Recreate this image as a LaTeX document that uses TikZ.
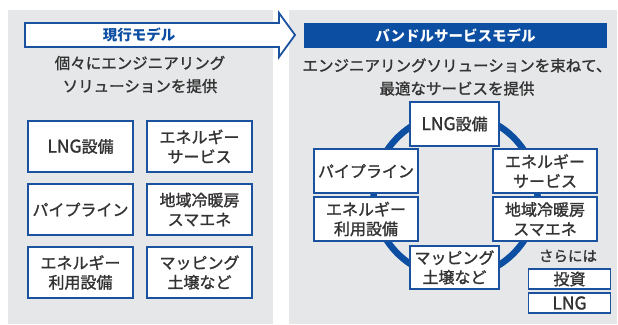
\documentclass[tikz,border=0pt]{standalone}
\usepackage{fontspec}
\setmainfont{Noto Sans CJK JP}
\newfontfamily\jpf[FakeBold=1.4]{Noto Sans CJK JP}
\newfontfamily\jpb{Noto Sans CJK JP}
\newcommand\lat[1]{{\fontsize{17.5}{19.5}\selectfont #1}}
\definecolor{panelgray}{HTML}{E6E7E9}
\definecolor{bblue}{HTML}{1A52A0}
\definecolor{hblue}{HTML}{0C4EA2}
\definecolor{tgray}{HTML}{333333}
\begin{document}
\begin{tikzpicture}[x=1pt,y=-1pt,
  panel/.style={fill=panelgray,draw=none},
  itembox/.style={draw=bblue,line width=1.8pt,fill=white,text=tgray,align=center,
    font=\jpf\fontsize{16}{19.5}\selectfont,inner sep=0pt,anchor=center},
  titletext/.style={text=tgray,align=center,font=\jpf\fontsize{15.5}{23}\selectfont,inner sep=0pt},
  ring/.style={draw=hblue,line width=6.5pt}]
\useasboundingbox (0,0) rectangle (618,324);
\fill[white] (0,0) rectangle (618,324);
% panels
\path[panel] (8,10) rectangle (273,324);
\path[panel] (289,10) rectangle (617,324);
% left header arrow
\draw[draw=bblue,line width=1.8pt,fill=white,line join=miter]
  (25,23) -- (279,23) -- (279,13) -- (295,35) -- (279,57) -- (279,47) -- (25,47) -- cycle;
\node[text=hblue,font=\jpb\bfseries\fontsize{14.5}{16}\selectfont,inner sep=0pt] (lhead) at (139,35) {現行モデル};
% left title
\node[titletext] (ltitle) at (140,74.5) {個々にエンジニアリング\\ソリューションを提供};
% left boxes
\node[itembox,minimum width=105pt,minimum height=51pt] (l1) at (80.5,146.5) {\lat{LNG}設備};
\node[itembox,minimum width=105pt,minimum height=51pt] (l2) at (199.5,146.5) {エネルギー\\サービス};
\node[itembox,minimum width=105pt,minimum height=51pt] (l3) at (80.5,209.5) {パイプライン};
\node[itembox,minimum width=105pt,minimum height=51pt] (l4) at (199.5,209.5) {地域冷暖房\\スマエネ};
\node[itembox,minimum width=105pt,minimum height=51pt] (l5) at (80.5,272.5) {エネルギー\\利用設備};
\node[itembox,minimum width=105pt,minimum height=51pt] (l6) at (199.5,272.5) {マッピング\\土壌など};
% right header
\fill[hblue] (304,23) rectangle (607,48);
\node[text=white,font=\jpb\bfseries\fontsize{14.5}{16}\selectfont,inner sep=0pt] (rhead) at (455.5,35.5) {バンドルサービスモデル};
% right title
\node[titletext] (rtitle) at (457,77) {エンジニアリングソリューションを束ねて、\\最適なサービスを提供};
% ring
\coordinate (cc) at (455.5,195.5);
\draw[ring] (cc) circle (82);
% right boxes
\node[itembox,minimum width=89pt,minimum height=44pt] (r1) at (454.5,124) {\lat{LNG}設備};
\node[itembox,minimum width=104pt,minimum height=44pt] (r2) at (366,171) {パイプライン};
\node[itembox,minimum width=104pt,minimum height=44pt] (r3) at (366,219) {エネルギー\\利用設備};
\node[itembox,minimum width=104pt,minimum height=44pt] (r4) at (545,171) {エネルギー\\サービス};
\node[itembox,minimum width=104pt,minimum height=44pt] (r5) at (545,219) {地域冷暖房\\スマエネ};
\node[itembox,minimum width=89pt,minimum height=43pt] (r6) at (454.5,267.5) {マッピング\\土壌など};
% extras
\node[text=tgray,font=\jpf\fontsize{14.5}{16}\selectfont,inner sep=0pt] (sarani) at (568,256) {さらには};
\node[itembox,minimum width=82pt,minimum height=20pt,line width=1.6pt] (inv) at (569.5,279) {投資};
\node[itembox,minimum width=82pt,minimum height=20pt,line width=1.6pt] (lng) at (569.5,303) {\lat{LNG}};
\end{tikzpicture}
\end{document}
